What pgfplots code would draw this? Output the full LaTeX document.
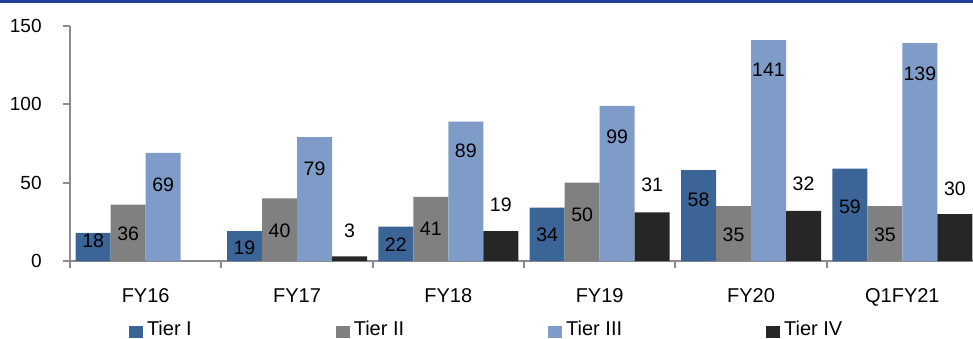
\documentclass[border=0pt]{standalone}
\usepackage{pgfplots}
\pgfplotsset{compat=1.18}
\usepackage{pgfplotstable}
\usepackage{fontspec}
\setmainfont{Liberation Sans}
\usetikzlibrary{calc}
\definecolor{tierA}{HTML}{3B6497}
\definecolor{tierB}{HTML}{808080}
\definecolor{tierC}{HTML}{7F9CC8}
\definecolor{tierD}{HTML}{262626}
\definecolor{topblue}{HTML}{1F3F94}
\definecolor{axgray}{HTML}{8C8C8C}

\pgfplotstableread{
x v1 l1 v2 l2 v3 l3 v4 l4
0 18 12.8 36 17.2 69 48.5 nan nan
1 19 8.3 40 19.1 79 58.7 3 19.1
2 22 10.2 41 20.4 89 70.2 19 35.7
3 34 16.6 50 29.4 99 79.1 31 48.5
4 58 38.9 35 16.6 141 121.9 32 49.1
5 59 34.5 35 16.6 139 119.4 30 46.0
}\data

\pgfplotsset{
  sqlegend/.style={legend image code/.code={\fill[##1] (0pt,-3.8pt) rectangle (7pt,2.2pt);}},
  barlab/.style={forget plot, draw=none, mark=none, nodes near coords, point meta=explicit symbolic,
    every node near coord/.append style={anchor=center, inner sep=0pt, xshift=#1, font=\fontsize{9.75}{11}\selectfont, text=black}},
}

\begin{document}
\begin{tikzpicture}
\begin{axis}[
  scale only axis, width=454pt, height=117.5pt,
  xmin=-0.5, xmax=5.5, ymin=0, ymax=150,
  axis lines=left,
  axis line style={-, draw=axgray, line width=0.9pt},
  xtick={-0.5,0.5,...,5.5},
  x tick label as interval,
  xticklabels={FY16,FY17,FY18,FY19,FY20,Q1FY21},
  ytick={0,50,100,150},
  tick align=outside,
  major tick length=3.5pt,
  tick style={draw=axgray, line width=0.9pt},
  /pgf/number format/assume math mode=true,
  yticklabel style={anchor=east, inner sep=0pt, xshift=-10.5pt, font=\fontsize{9.5}{11}\selectfont},
  xticklabel style={anchor=north, inner sep=0pt, yshift=-10pt, font=\fontsize{10}{12}\selectfont},
  legend columns=4,
  legend cell align=left,
  legend style={at={(0,0)}, anchor=west, xshift=29.5pt, yshift=-34.5pt, draw=none, fill=none,
    inner sep=0pt, outer sep=0pt, font=\fontsize{10}{12}\selectfont,
    /tikz/every even column/.append style={column sep=70pt}},
]
\addplot[ybar, bar width=17.5pt, bar shift=-26.25pt, fill=tierA, draw=none, sqlegend] table[x=x, y=v1]{\data};
\addlegendentry{Tier I}
\addplot[ybar, bar width=17.5pt, bar shift=-8.75pt, fill=tierB, draw=none, sqlegend] table[x=x, y=v2]{\data};
\addlegendentry{Tier II}
\addplot[ybar, bar width=17.5pt, bar shift=8.75pt, fill=tierC, draw=none, sqlegend] table[x=x, y=v3]{\data};
\addlegendentry{Tier III}
\addplot[ybar, bar width=17.5pt, bar shift=26.25pt, fill=tierD, draw=none, sqlegend] table[x=x, y=v4]{\data};
\addlegendentry{Tier IV}
\addplot[barlab=-26.25pt] table[x=x, y=l1, meta=v1]{\data};
\addplot[barlab=-8.75pt] table[x=x, y=l2, meta=v2]{\data};
\addplot[barlab=8.75pt] table[x=x, y=l3, meta=v3]{\data};
\addplot[barlab=26.25pt] table[x=x, y=l4, meta=v4]{\data};
\coordinate (ll) at (rel axis cs:0,0);
\coordinate (ur) at (rel axis cs:1,1);
\end{axis}
\fill[topblue] ($(ll|-ur)+(-35pt,13pt)$) rectangle ($(ur)+(0pt,11.5pt)$);
\pgfresetboundingbox
\path[use as bounding box] ($(ll)+(-35pt,-38.5pt)$) rectangle ($(ur)+(-2.5pt,13pt)$);
\end{tikzpicture}
\end{document}
